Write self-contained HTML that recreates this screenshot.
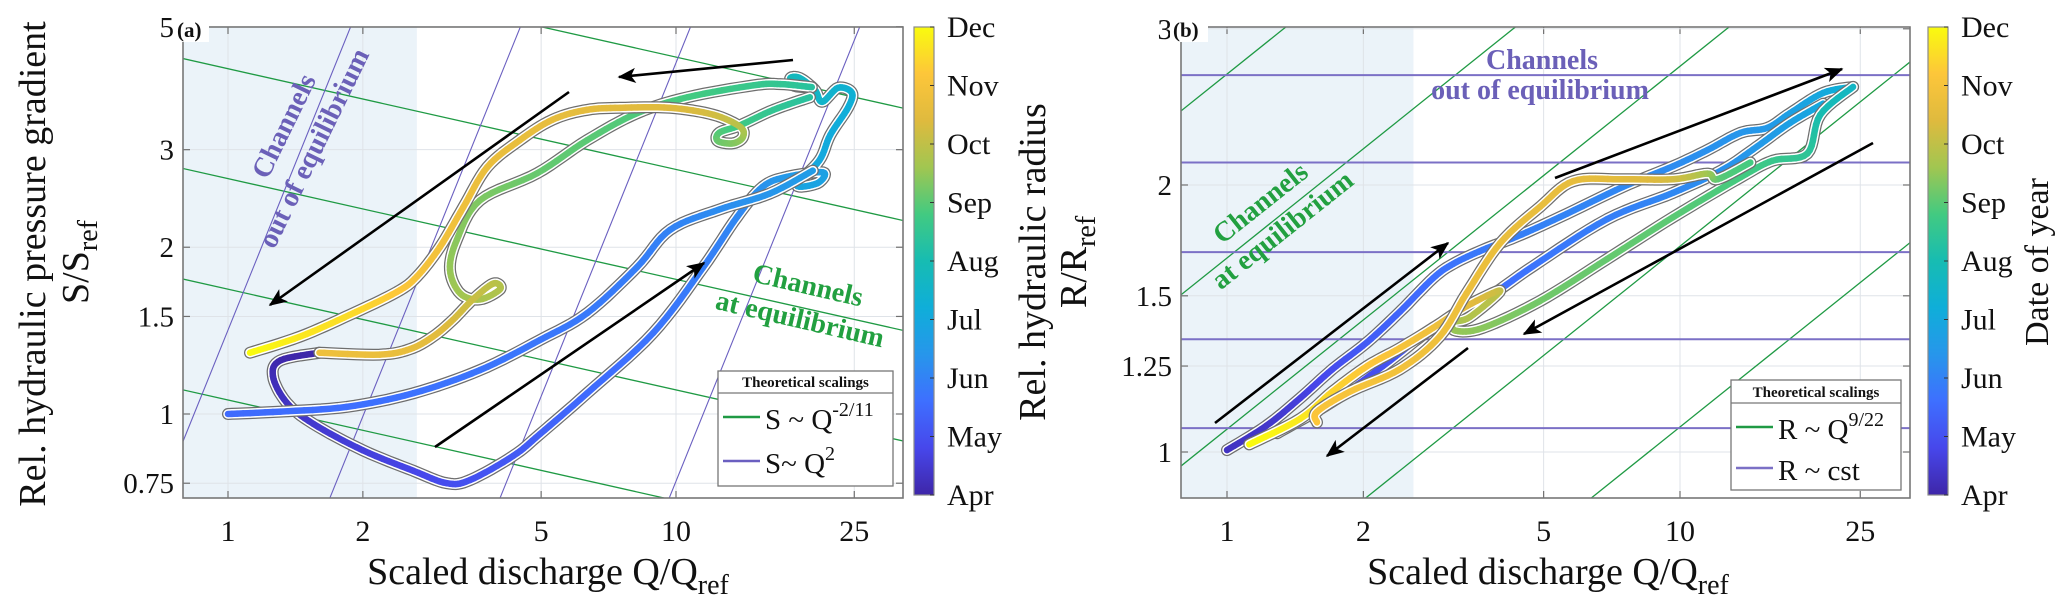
<!DOCTYPE html>
<html><head><meta charset="utf-8">
<style>
html,body{margin:0;padding:0;background:#fff;width:2067px;height:616px;overflow:hidden;}
svg{display:block;font-family:"Liberation Serif",serif;}
</style></head>
<body>
<svg id="fig" width="2067" height="616" viewBox="0 0 2067 616" xmlns="http://www.w3.org/2000/svg">
<defs>
<linearGradient id="parula" x1="0" y1="1" x2="0" y2="0">
<stop offset="0" stop-color="#3e26a8"/><stop offset="0.1" stop-color="#4747eb"/><stop offset="0.2" stop-color="#3e6fff"/>
<stop offset="0.3" stop-color="#2796eb"/><stop offset="0.4" stop-color="#0faed9"/><stop offset="0.5" stop-color="#17bcb2"/>
<stop offset="0.6" stop-color="#42ca81"/><stop offset="0.7" stop-color="#a1c651"/><stop offset="0.8" stop-color="#dfba3e"/>
<stop offset="0.9" stop-color="#fdc63a"/><stop offset="1" stop-color="#f9fb0e"/>
</linearGradient>
<marker id="ah" viewBox="0 0 12 10" refX="11" refY="5" markerWidth="7" markerHeight="6" orient="auto" markerUnits="strokeWidth">
<path d="M0,0 L12,5 L0,10 L3,5 Z" fill="#000"/></marker>
<clipPath id="clipA"><rect x="183" y="27" width="720" height="471"/></clipPath>
<clipPath id="clipB"><rect x="1181" y="27" width="729" height="471"/></clipPath>
</defs>
</svg>
<script>
// ---------------- Panel (a) data ----------------
const aTicksX = [1, 2, 5, 10, 25];
const aTickLabelsX = ["1", "2", "5", "10", "25"];
const aTicksY = [0.75, 1, 1.5, 2, 3, 5];
const aTickLabelsY = ["0.75", "1", "1.5", "2", "3", "5"];
const aGreenConst = [6.7, 4.2, 2.66, 1.68, 1.06];      // S = c * Q^(-2/11)
const aPurpleQ0 = [0.84, 2.01, 4.82, 11.5];           // S = (Q/Q0)^2
const aSeg1Q = [1.60,1.31,1.26,1.35,1.55,2.00,2.59,3.08,3.47,4.33,4.97,6.33,8.89,11.5,13.7,15.6,17.7,21.3,20.7,18.6,20.9,22.1,24.2,24.7,23.0,21.2,20.4,18.9,18.0,18.4,20.1];
const aSeg1S = [1.29,1.25,1.17,1.05,0.96,0.86,0.79,0.75,0.76,0.84,0.92,1.09,1.40,1.84,2.27,2.57,2.68,2.73,2.61,2.59,2.87,3.19,3.57,3.80,3.88,3.66,3.85,4.04,4.04,3.91,3.89];
const aSeg1M = [4.0,4.05,4.15,4.3,4.45,4.6,4.75,4.9,5.0,5.15,5.3,5.5,5.7,5.9,6.1,6.3,6.5,6.7,6.8,6.9,7.0,7.1,7.2,7.3,7.4,7.5,7.6,7.7,7.8,7.9,8.0];
const aSeg2Q = [1.0,1.31,1.84,2.59,3.65,4.97,6.33,8.18,9.70,12.5,16.2,20.2];
const aSeg2S = [1.0,1.01,1.03,1.09,1.20,1.36,1.52,1.84,2.15,2.34,2.50,2.75];
const aSeg2M = [5.5,5.55,5.6,5.65,5.7,5.75,5.8,5.9,6.0,6.2,6.4,6.6];
const aSeg3Q = [20.1,17.1,14.9,10.6,8.18,6.33,4.90,3.65,3.24,3.13,3.30,3.65,4.05,3.91,3.52,3.18,2.87,2.55,2.18,1.60];
const aSeg3S = [3.89,3.94,3.92,3.73,3.49,3.12,2.72,2.43,2.06,1.82,1.65,1.61,1.68,1.72,1.61,1.48,1.38,1.31,1.28,1.29];
const aSeg3M = [8.3,8.5,8.6,8.8,8.9,9.0,9.1,9.3,9.4,9.5,9.6,9.7,9.8,9.9,10.1,10.3,10.5,10.6,10.7,10.8];
const aSeg4Q = [19.9,16.5,13.9,12.5,12.4,13.4,14.1,13.9,12.1,9.70,7.50,6.33,5.31,4.48,3.79,3.35,2.97,2.64,2.38,1.87,1.45,1.12];
const aSeg4S = [3.73,3.54,3.32,3.22,3.11,3.08,3.16,3.30,3.47,3.57,3.57,3.54,3.40,3.12,2.79,2.36,2.00,1.77,1.66,1.51,1.38,1.29];
const aSeg4M = [8.3,8.5,8.7,8.9,9.1,9.3,9.5,9.8,10.2,10.4,10.5,10.55,10.6,10.65,10.7,10.8,10.9,11.0,11.2,11.5,11.7,12.0];
// ---------------- Panel (b) data ----------------
const bTicksX = [1, 2, 5, 10, 25];
const bTickLabelsX = ["1", "2", "5", "10", "25"];
const bTicksY = [1, 1.25, 1.5, 2, 3];
const bTickLabelsY = ["1", "1.25", "1.5", "2", "3"];
const bGreenQ0 = [0.0909, 0.292, 0.865, 2.71, 8.53];  // R = (Q/Q0)^(9/22)
const bPurpleConst = [1.064, 1.34, 1.68, 2.12, 2.66]; // R = cst
const bSeg1Q = [1.00,1.22,1.45,1.71,2.04,2.41,2.85,3.16,3.67,4.37,5.43,7.48,9.66,11.5,13.6,15.6,17.5,20.7,24.1];
const bSeg1R = [1.005,1.07,1.15,1.24,1.33,1.44,1.57,1.63,1.69,1.75,1.84,1.99,2.10,2.19,2.29,2.32,2.41,2.54,2.58];
const bSeg1M = [4.3,4.4,4.6,4.9,5.2,5.4,5.6,5.7,5.8,5.9,6.0,6.1,6.2,6.3,6.4,6.5,6.7,7.0,7.4];
const bSeg2Q = [1.29,1.71,2.21,2.85,3.67,4.74,6.90,9.66,12.4,14.8,17.5,20.7];
const bSeg2R = [1.05,1.14,1.25,1.38,1.48,1.62,1.83,1.96,2.08,2.21,2.35,2.47];
const bSeg2M = [4.2,4.6,5.0,5.3,5.5,5.7,5.9,6.1,6.3,6.5,6.7,7.0];
const bSeg3Q = [24.1,20.4,19.1,16.0,13.6,9.66,6.90,4.91,3.67,3.20,3.16,3.44,4.01,3.38,2.85,2.41,2.04,1.71,1.45,1.12];
const bSeg3R = [2.58,2.40,2.17,2.13,2.04,1.84,1.65,1.48,1.38,1.37,1.40,1.42,1.52,1.46,1.38,1.31,1.25,1.17,1.09,1.02];
const bSeg3M = [7.6,8.0,8.4,8.6,8.8,9.0,9.1,9.2,9.4,9.5,9.6,9.8,10.0,10.5,10.8,11.0,11.2,11.4,11.7,12.0];
const bSeg4Q = [14.3,12.1,11.5,9.66,7.38,5.81,4.91,4.01,3.38,2.95,2.41,1.87,1.58,1.58];
const bSeg4R = [2.12,2.03,2.06,2.03,2.03,2.02,1.89,1.72,1.51,1.35,1.24,1.17,1.11,1.08];
const bSeg4M = [8.8,9.0,9.5,10.2,10.5,10.6,10.65,10.7,10.75,10.8,10.9,11.0,11.1,11.2];
const monthLabels = ["Apr","May","Jun","Jul","Aug","Sep","Oct","Nov","Dec"];

const NS = "http://www.w3.org/2000/svg";
const svg = document.getElementById('fig');
function mk(tag, attrs, parent) {
  const e = document.createElementNS(NS, tag);
  for (const k in attrs) e.setAttribute(k, attrs[k]);
  (parent || svg).appendChild(e);
  return e;
}
const L10 = Math.log10;
const PAR = [[62,38,168],[71,71,235],[62,111,255],[39,150,235],[15,174,217],[23,188,178],[66,202,129],[161,198,81],[223,186,62],[253,198,58],[249,251,14]];
function parula(m) {
  let t = Math.max(0, Math.min(1, (m - 4) / 8)) * 10;
  const i = Math.min(9, Math.floor(t)); const f = t - i;
  const c = PAR[i].map((v, k) => Math.round(v + (PAR[i + 1][k] - v) * f));
  return `rgb(${c[0]},${c[1]},${c[2]})`;
}

const A = {x0:183, x1:903, y0:27, y1:498, xq:q => 228 + 448 * L10(q), ys:s => 414 - 554 * L10(s), clip:'url(#clipA)'};
const B = {x0:1181, x1:1910, y0:27, y1:498, xq:q => 1227 + 453 * L10(q), ys:s => 452 - 887 * L10(s), clip:'url(#clipB)'};

function frame(P, tag, ticksX, labX, ticksY, labY, shadeQ) {
  const g = mk('g', {});
  
  
  const bg = mk('rect', {x:P.x0, y:P.y0, width:P.x1 - P.x0, height:P.y1 - P.y0, fill:'#fff'}, g);
  
  
  const sh = mk('rect', {x:P.x0, y:P.y0, width:P.xq(shadeQ) - P.x0, height:P.y1 - P.y0, fill:'#ebf3f9'}, g);
  
  
  ticksX.forEach((t, i) => {
    const x = P.xq(t);
    const gl = mk('line', {x1:x, x2:x, y1:P.y0, y2:P.y1, stroke:'#dfe3e8', 'stroke-width':1}, g);
    
    
    mk('line', {x1:x, x2:x, y1:P.y1, y2:P.y1 - 7, stroke:'#707070', 'stroke-width':1.2}, g);
    mk('line', {x1:x, x2:x, y1:P.y0, y2:P.y0 + 7, stroke:'#707070', 'stroke-width':1.2}, g);
    const tl = mk('text', {x:x, y:541, 'font-size':30, 'text-anchor':'middle', fill:'#111'}, g);
    tl.textContent = labX[i];
    
    
  });
  ticksY.forEach((t, i) => {
    const y = P.ys(t);
    const gl = mk('line', {x1:P.x0, x2:P.x1, y1:y, y2:y, stroke:'#dfe3e8', 'stroke-width':1}, g);
    
    
    mk('line', {x1:P.x0, x2:P.x0 + 7, y1:y, y2:y, stroke:'#707070', 'stroke-width':1.2}, g);
    mk('line', {x1:P.x1, x2:P.x1 - 7, y1:y, y2:y, stroke:'#707070', 'stroke-width':1.2}, g);
    const tl = mk('text', {x:P.x0 - 9, y:y + 10, 'font-size':29, 'text-anchor':'end', fill:'#111'}, g);
    tl.textContent = labY[i];
    
    
  });
  return g;
}

function guides(P, tag, fnGreen, fnPurple, purpleW, purpleCol) {
  const g = mk('g', {'clip-path':P.clip});
  
  
  const qs = [0.5, 60];
  fnGreen.forEach(f => {
    const l = mk('line', {x1:P.xq(qs[0]), y1:P.ys(f(qs[0])), x2:P.xq(qs[1]), y2:P.ys(f(qs[1])), stroke:'#1f9a44', 'stroke-width':1.3}, g);
    
    
  });
  fnPurple.forEach(f => {
    const l = mk('line', {x1:P.xq(qs[0]), y1:P.ys(f(qs[0])), x2:P.xq(qs[1]), y2:P.ys(f(qs[1])), stroke:purpleCol, 'stroke-width':purpleW}, g);
    
    
  });
  return g;
}

function smooth(pts) {
  const out = [];
  for (let i = 0; i < pts.length - 1; i++) {
    const p0 = pts[Math.max(0, i - 1)], p1 = pts[i], p2 = pts[i + 1], p3 = pts[Math.min(pts.length - 1, i + 2)];
    for (let k = 0; k < 8; k++) {
      const t = k / 8, t2 = t * t, t3 = t2 * t;
      const f = j => 0.5 * ((2 * p1[j]) + (-p0[j] + p2[j]) * t + (2 * p0[j] - 5 * p1[j] + 4 * p2[j] - p3[j]) * t2 + (-p0[j] + 3 * p1[j] - 3 * p2[j] + p3[j]) * t3);
      out.push([f(0), f(1), f(2)]);
    }
  }
  const l = pts[pts.length - 1]; out.push([l[0], l[1], l[2]]);
  return out;
}

function trajectory(P, tag, qArr, vArr, mArr) {
  const g = mk('g', {'clip-path':P.clip});
  
  
  const pts = smooth(qArr.map((q, i) => [P.xq(q), P.ys(vArr[i]), mArr[i]]));
  const d = 'M' + pts.map(p => p[0].toFixed(1) + ',' + p[1].toFixed(1)).join(' L');
  mk('path', {d:d, fill:'none', stroke:'#6e6e6e', 'stroke-width':12, 'stroke-linecap':'round', 'stroke-linejoin':'round'}, g);
  mk('path', {d:d, fill:'none', stroke:'#ffffff', 'stroke-width':9.5, 'stroke-linecap':'round', 'stroke-linejoin':'round'}, g);
  for (let i = 0; i < pts.length - 1; i++) {
    const s = mk('line', {x1:pts[i][0], y1:pts[i][1], x2:pts[i + 1][0], y2:pts[i + 1][1], stroke:parula((pts[i][2] + pts[i + 1][2]) / 2), 'stroke-width':6.5, 'stroke-linecap':'round'}, g);
    
    
  }
}

function arrow(x1, y1, x2, y2, name) {
  const a = mk('line', {x1:x1, y1:y1, x2:x2, y2:y2, stroke:'#000', 'stroke-width':2.6, 'marker-end':'url(#ah)'});
  
  
}

function text(str, x, y, size, opts) {
  const t = mk('text', Object.assign({x:x, y:y, 'font-size':size, fill:'#111'}, opts || {}));
  t.innerHTML = str;
  return t;
}

function colorbar(x, tag) {
  const g = mk('g', {});
  
  
  mk('rect', {x:x, y:27, width:20, height:468, fill:'url(#parula)', stroke:'#8a8a8a', 'stroke-width':1.2}, g);
  monthLabels.forEach((m, i) => {
    const y = 495 - i * 468 / 8;
    mk('line', {x1:x + 20, x2:x + 16, y1:y, y2:y, stroke:'#333', 'stroke-width':1}, g);
    const t = mk('text', {x:x + 33, y:y + 10, 'font-size':30, fill:'#111'}, g);
    t.textContent = m;
    
    
  });
}

function axisFrame(P, tag) {
  const r = mk('rect', {x:P.x0, y:P.y0, width:P.x1 - P.x0, height:P.y1 - P.y0, fill:'none', stroke:'#777', 'stroke-width':1.6});
  
  
}

function legend(x, y, w, h, hdrY, e1, e2, tag) {
  const g = mk('g', {});
  
  
  mk('rect', {x:x, y:y, width:w, height:h, fill:'#fff', stroke:'#777', 'stroke-width':1.3}, g);
  mk('line', {x1:x, x2:x + w, y1:hdrY, y2:hdrY, stroke:'#777', 'stroke-width':1.3}, g);
  const ht = mk('text', {x:x + w / 2, y:hdrY - 6, 'font-size':15, 'font-weight':'bold', 'text-anchor':'middle', fill:'#111'}, g);
  ht.textContent = 'Theoretical scalings';
  
  
  [e1, e2].forEach(e => {
    const ln = mk('line', {x1:x + 5, x2:x + 42, y1:e.y, y2:e.y, stroke:e.c, 'stroke-width':2.5}, g);
    
    
    const t = mk('text', {x:x + 47, y:e.y + 12, 'font-size':29, fill:'#111'}, g);
    t.innerHTML = e.html;
    
    
  });
}

// ================= Panel (a) =================
frame(A, 'a', aTicksX, aTickLabelsX, aTicksY, aTickLabelsY, 2.64);
guides(A, 'a', aGreenConst.map(c => q => c * Math.pow(q, -2 / 11)), aPurpleQ0.map(q0 => q => Math.pow(q / q0, 2)), 1.1, '#6a5fc0');
let t;
t = text('Channels', 0, 0, 28, {'font-weight':'bold', fill:'#6b60b8', 'text-anchor':'middle', transform:'translate(292,130) rotate(-64)'});


t = text('out of equilibrium', 0, 0, 28, {'font-weight':'bold', fill:'#6b60b8', 'text-anchor':'middle', transform:'translate(322,152) rotate(-64)'});


t = text('Channels', 0, 0, 28, {'font-weight':'bold', fill:'#22a040', 'text-anchor':'middle', transform:'translate(806,294) rotate(13)'});


t = text('at equilibrium', 0, 0, 28, {'font-weight':'bold', fill:'#22a040', 'text-anchor':'middle', transform:'translate(798,328) rotate(13)'});


trajectory(A, 'a1', aSeg1Q, aSeg1S, aSeg1M);
trajectory(A, 'a2', aSeg2Q, aSeg2S, aSeg2M);
trajectory(A, 'a3', aSeg3Q, aSeg3S, aSeg3M);
trajectory(A, 'a4', aSeg4Q, aSeg4S, aSeg4M);
arrow(793, 60, 619, 77, 'direction-arrow');
arrow(569, 92, 270, 305, 'direction-arrow');
arrow(435, 447, 704, 263, 'direction-arrow');
axisFrame(A, 'a');
legend(718, 371, 175, 115, 393,
  {y:417, c:'#1f9a44', html:'S ~ Q<tspan dy="-13" font-size="20">-2/11</tspan>'},
  {y:461, c:'#6a5fc0', html:'S~ Q<tspan dy="-13" font-size="20">2</tspan>'}, 'a');
let r = mk('rect', {x:175, y:17, width:34, height:25, fill:'#fff'});


t = text('(a)', 177, 37, 21, {'font-weight':'bold'});


colorbar(914, 'a');
t = text('Rel. hydraulic pressure gradient', 0, 0, 38, {'text-anchor':'middle', transform:'translate(45,264) rotate(-90)'});


t = text('S/S<tspan dy="9" font-size="28">ref</tspan>', 0, 0, 38, {'text-anchor':'middle', transform:'translate(88,262) rotate(-90)'});


t = text('Scaled discharge Q/Q<tspan dy="10" font-size="28">ref</tspan>', 548, 584, 38, {'text-anchor':'middle'});



// ================= Panel (b) =================
frame(B, 'b', bTicksX, bTickLabelsX, bTicksY, bTickLabelsY, 2.58);
guides(B, 'b', bGreenQ0.map(q0 => q => Math.pow(q / q0, 9 / 22)), bPurpleConst.map(c => q => c), 2, '#7b70c6');
t = text('Channels', 1542, 69, 28, {'font-weight':'bold', fill:'#6b60b8', 'text-anchor':'middle'});


t = text('out of equilibrium', 1540, 99, 28, {'font-weight':'bold', fill:'#6b60b8', 'text-anchor':'middle'});


t = text('Channels', 0, 0, 28, {'font-weight':'bold', fill:'#22a040', 'text-anchor':'middle', transform:'translate(1266,210) rotate(-38.5)'});


t = text('at equilibrium', 0, 0, 28, {'font-weight':'bold', fill:'#22a040', 'text-anchor':'middle', transform:'translate(1288,237) rotate(-38.5)'});


trajectory(B, 'b1', bSeg1Q, bSeg1R, bSeg1M);
trajectory(B, 'b2', bSeg2Q, bSeg2R, bSeg2M);
trajectory(B, 'b3', bSeg3Q, bSeg3R, bSeg3M);
trajectory(B, 'b4', bSeg4Q, bSeg4R, bSeg4M);
arrow(1215, 423, 1448, 243, 'direction-arrow');
arrow(1468, 348, 1327, 456, 'direction-arrow');
arrow(1555, 178, 1842, 69, 'direction-arrow');
arrow(1873, 143, 1524, 334, 'direction-arrow');
axisFrame(B, 'b');
legend(1731, 380, 170, 110, 403,
  {y:427, c:'#1f9a44', html:'R ~ Q<tspan dy="-13" font-size="20">9/22</tspan>'},
  {y:468, c:'#7b70c6', html:'R ~ cst'}, 'b');
r = mk('rect', {x:1170, y:17, width:38, height:25, fill:'#fff'});


t = text('(b)', 1173, 37, 21, {'font-weight':'bold'});


colorbar(1928, 'b');
t = text('Date of year', 0, 0, 34, {'text-anchor':'middle', transform:'translate(2048,262) rotate(-90)'});


t = text('Rel. hydraulic radius', 0, 0, 38, {'text-anchor':'middle', transform:'translate(1045,262) rotate(-90)'});


t = text('R/R<tspan dy="9" font-size="28">ref</tspan>', 0, 0, 38, {'text-anchor':'middle', transform:'translate(1086,262) rotate(-90)'});


t = text('Scaled discharge Q/Q<tspan dy="10" font-size="28">ref</tspan>', 1548, 584, 38, {'text-anchor':'middle'});


</script>
</body></html>
